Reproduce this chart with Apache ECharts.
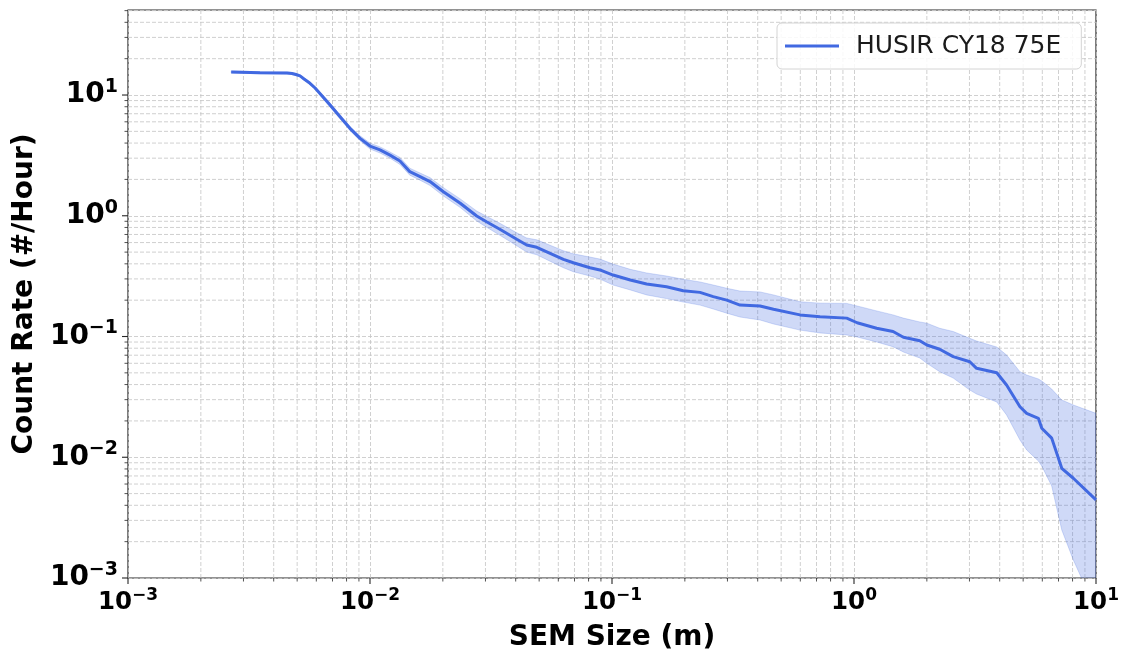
<!DOCTYPE html>
<html>
<head>
<meta charset="utf-8">
<script src="https://cdn.jsdelivr.net/npm/echarts@6/dist/echarts.min.js"></script>
<style>
  html, body { margin: 0; padding: 0; background: #fff; }
  #chart { width: 1125px; height: 652px; }
</style>
</head>
<body>
<div id="chart"></div>
<script>
// SEM size (m)
const sizes = [
  0.00267, 0.00351, 0.00454, 0.00476, 0.00494, 0.00514, 0.00534, 0.00565, 0.00593, 0.00621,
  0.00684, 0.00752, 0.00826, 0.00910,
  0.0100, 0.0110, 0.0121, 0.0133, 0.0146, 0.0161, 0.0177, 0.0201, 0.0236, 0.0276,
  0.0303, 0.0344, 0.0404, 0.0444, 0.0489, 0.0555, 0.0630, 0.0692, 0.0811, 0.0891,
  0.101, 0.119, 0.139, 0.168, 0.197, 0.231, 0.262, 0.298, 0.338, 0.409,
  0.465, 0.598, 0.724, 0.933, 1.03, 1.24, 1.45, 1.60, 1.87, 2.00,
  2.26, 2.57, 3.01, 3.21, 3.89, 4.27, 4.85, 5.17, 5.78, 5.97,
  6.56, 7.22, 8.06, 10.0
];
// Cumulative count rate (#/hour)
const rate = [
  15.5, 15.3, 15.2, 15.07, 14.79, 14.4, 13.57, 12.5, 11.43, 10.3,
  8.26, 6.61, 5.30, 4.38,
  3.78, 3.51, 3.18, 2.84, 2.32, 2.11, 1.92, 1.58, 1.27, 0.995,
  0.893, 0.773, 0.639, 0.573, 0.548, 0.489, 0.436, 0.408, 0.371, 0.356,
  0.323, 0.294, 0.272, 0.258, 0.239, 0.232, 0.214, 0.200, 0.182, 0.179,
  0.168, 0.151, 0.146, 0.142, 0.130, 0.117, 0.110, 0.0985, 0.0923, 0.0851,
  0.0784, 0.0681, 0.0618, 0.0545, 0.0501, 0.0397, 0.0262, 0.0231, 0.0210, 0.0174,
  0.0144, 0.00810, 0.00670, 0.00443
];
// Upper edge of the uncertainty band
const rateHi = [
  15.8, 15.6, 15.5, 15.37, 15.09, 14.7, 13.85, 12.8, 11.72, 10.6,
  8.58, 6.87, 5.51, 4.59,
  4.00, 3.72, 3.37, 3.04, 2.48, 2.26, 2.07, 1.71, 1.38, 1.095,
  0.991, 0.867, 0.723, 0.655, 0.632, 0.570, 0.513, 0.484, 0.455, 0.438,
  0.398, 0.360, 0.336, 0.317, 0.298, 0.283, 0.267, 0.251, 0.238, 0.234,
  0.221, 0.194, 0.189, 0.188, 0.179, 0.163, 0.151, 0.142, 0.132, 0.129,
  0.117, 0.110, 0.0966, 0.0918, 0.0818, 0.0703, 0.0511, 0.0480, 0.0445, 0.0428,
  0.0367, 0.0298, 0.0271, 0.0231
];
// Lower edge of the uncertainty band
const rateLo = [
  15.2, 15.0, 14.9, 14.77, 14.49, 14.1, 13.29, 12.2, 11.15, 10.0,
  7.95, 6.36, 5.10, 4.18,
  3.57, 3.31, 3.00, 2.66, 2.17, 1.97, 1.78, 1.46, 1.17, 0.905,
  0.805, 0.690, 0.564, 0.501, 0.475, 0.420, 0.371, 0.344, 0.317, 0.299,
  0.267, 0.243, 0.221, 0.206, 0.193, 0.182, 0.169, 0.156, 0.145, 0.137,
  0.127, 0.113, 0.107, 0.103, 0.0991, 0.0901, 0.0823, 0.0744, 0.0664, 0.0600,
  0.0511, 0.0453, 0.0360, 0.0334, 0.0287, 0.0224, 0.0139, 0.0115, 0.00931, 0.00846,
  0.00578, 0.00250, 0.00141, 0.000543
];

const seriesName = 'HUSIR CY18 75E';
const xRange = [1e-3, 10];
const yRange = [1e-3, 50.6];
const xDecades = [-3, -2, -1, 0, 1];
const yDecades = [-3, -2, -1, 0, 1];

const FONT = 'DejaVu Sans';
const BLUE = '#4169e1';
const AXIS = '#262626';
const GRID = '#c4c4c4';

// tick positions: major at each power of ten, minor at 2..9 times it
function tickValues(decades, lo, hi) {
  const out = [];
  decades.forEach(d => {
    for (let m = 1; m <= 9; m++) {
      const v = m * Math.pow(10, d);
      if (v >= lo * 0.999 && v <= hi * 1.001) out.push([v, m === 1 ? 1 : 0]);
    }
  });
  return out;
}
const xTicks = tickValues(xDecades, xRange[0], xRange[1]);
const yTicks = tickValues(yDecades, yRange[0], yRange[1]);

function powLabel(v) {
  const e = Math.log10(v);
  const r = Math.round(e);
  if (Math.abs(e - r) > 1e-6) return '';
  const s = String(r).replace('-', '\u2212');
  return '{b|10}{s|' + s + '}';
}
function richFor(base, sup) {
  return {
    b: { fontFamily: FONT, fontWeight: 'bold', fontSize: base, color: '#000', lineHeight: Math.round(base * 1.25) },
    s: { fontFamily: FONT, fontWeight: 'bold', fontSize: sup, color: '#000', lineHeight: Math.round(sup * 0.75), verticalAlign: 'top' }
  };
}

const chart = echarts.init(document.getElementById('chart'), null, { renderer: 'canvas' });

chart.setOption({
  animation: false,
  backgroundColor: '#fff',
  grid: {
    left: 128, right: 29, top: 10, bottom: 74,
    outerBoundsMode: 'none', containLabel: false,
    show: true, borderColor: AXIS, borderWidth: 1.2, backgroundColor: 'transparent'
  },
  legend: {
    data: [{ name: seriesName, icon: 'rect' }],
    left: 777, top: 23,
    padding: [10, 20, 10, 8],
    itemWidth: 54, itemHeight: 3,
    backgroundColor: 'rgba(255,255,255,0.85)',
    borderColor: '#d4d4d4', borderWidth: 1, borderRadius: 5,
    textStyle: { fontFamily: FONT, fontSize: 25, lineHeight: 26, color: '#1a1a1a', padding: [0, 0, 0, 12] }
  },
  xAxis: {
    type: 'log', logBase: 10, min: xRange[0], max: xRange[1], splitNumber: 4,
    name: 'SEM Size (m)', nameLocation: 'middle', nameGap: 46,
    nameTextStyle: { fontFamily: FONT, fontWeight: 'bold', fontSize: 28, color: '#000' },
    axisLine: { show: false },
    axisTick: { show: false },
    axisLabel: { formatter: powLabel, rich: richFor(24.5, 17), margin: 9, showMaxLabel: true, showMinLabel: true },
    splitLine: { show: true, lineStyle: { color: GRID, type: [4, 2], width: 0.8 } }
  },
  yAxis: {
    type: 'log', logBase: 10, min: yRange[0], max: yRange[1], splitNumber: 5,
    name: 'Count Rate (#/Hour)', nameLocation: 'middle', nameGap: 86, nameRotate: 90,
    nameTextStyle: { fontFamily: FONT, fontWeight: 'bold', fontSize: 28, color: '#000' },
    axisLine: { show: false },
    axisTick: { show: false },
    axisLabel: { formatter: powLabel, rich: richFor(28, 19), margin: 10 },
    splitLine: { show: true, lineStyle: { color: GRID, type: [4, 2], width: 0.8 } }
  },
  series: [
    {
      // minor grid lines and all tick marks along the x axis
      type: 'custom', silent: true, z: 1, clip: false,
      data: xTicks.map(t => [t[0], 1, t[1]]),
      renderItem: function (params, api) {
        const cs = params.coordSys;
        const x = api.coord([api.value(0), 1])[0];
        const major = api.value(2) === 1;
        const bottom = cs.y + cs.height;
        const children = [{
          type: 'line',
          shape: { x1: x, y1: bottom, x2: x, y2: bottom + (major ? 6 : 3.5) },
          style: { stroke: AXIS, lineWidth: major ? 1.1 : 0.8 }
        }];
        if (!major) {
          children.push({
            type: 'line',
            shape: { x1: x, y1: cs.y, x2: x, y2: bottom },
            style: { stroke: GRID, lineWidth: 0.8, lineDash: [4, 2] }
          });
        }
        return { type: 'group', children: children };
      }
    },
    {
      // minor grid lines and all tick marks along the y axis
      type: 'custom', silent: true, z: 1, clip: false,
      data: yTicks.map(t => [0.01, t[0], t[1]]),
      renderItem: function (params, api) {
        const cs = params.coordSys;
        const y = api.coord([0.01, api.value(1)])[1];
        const major = api.value(2) === 1;
        const children = [{
          type: 'line',
          shape: { x1: cs.x - (major ? 6 : 3.5), y1: y, x2: cs.x, y2: y },
          style: { stroke: AXIS, lineWidth: major ? 1.1 : 0.8 }
        }];
        if (!major) {
          children.push({
            type: 'line',
            shape: { x1: cs.x, y1: y, x2: cs.x + cs.width, y2: y },
            style: { stroke: GRID, lineWidth: 0.8, lineDash: [4, 2] }
          });
        }
        return { type: 'group', children: children };
      }
    },
    {
      // uncertainty band between rateLo and rateHi
      type: 'custom', silent: true, z: 2, clip: true,
      data: [[sizes[0], rate[0]]],
      renderItem: function (params, api) {
        const pts = [];
        for (let i = 0; i < sizes.length; i++) pts.push(api.coord([sizes[i], rateHi[i]]));
        for (let i = sizes.length - 1; i >= 0; i--) pts.push(api.coord([sizes[i], rateLo[i]]));
        return {
          type: 'polygon',
          shape: { points: pts },
          style: { fill: 'rgba(65,105,225,0.25)', stroke: 'rgba(65,105,225,0.22)', lineWidth: 1 }
        };
      }
    },
    {
      name: seriesName,
      type: 'line', z: 3,
      symbol: 'none', showSymbol: false,
      lineStyle: { color: BLUE, width: 3 },
      itemStyle: { color: BLUE },
      data: sizes.map((s, i) => [s, rate[i]])
    }
  ]
});
</script>
</body>
</html>
